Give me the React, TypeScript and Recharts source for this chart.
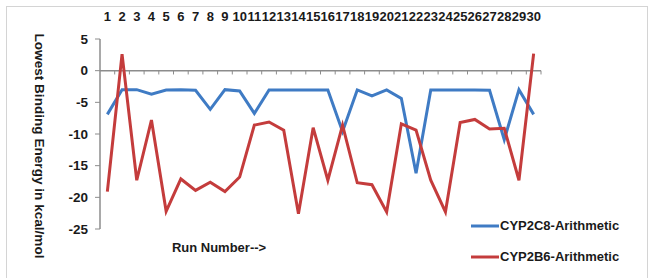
import React from 'react';
import { LineChart, Line, XAxis, YAxis, ReferenceLine, Legend } from 'recharts';

const runs = [1,2,3,4,5,6,7,8,9,10,11,12,13,14,15,16,17,18,19,20,21,22,23,24,25,26,27,28,29,30];
const cyp2c8 = [-6.9,-3,-3,-3.7,-3.05,-3,-3.1,-6.1,-3,-3.2,-6.75,-3.05,-3.05,-3.05,-3.05,-3.05,-9.6,-3.05,-4,-3.05,-4.4,-16.2,-3.05,-3.05,-3.05,-3.05,-3.1,-10.9,-3,-6.9];
const cyp2b6 = [-19.1,2.6,-17.3,-7.8,-22.2,-17.1,-18.9,-17.6,-19.1,-16.8,-8.6,-8.1,-9.4,-22.6,-9,-17.3,-8.6,-17.7,-18,-22.3,-8.4,-9.4,-17.3,-22.3,-8.2,-7.7,-9.2,-9.1,-17.3,2.7];
const yTicks = [5, 0, -5, -10, -15, -20, -25];
const seriesNames = ['CYP2C8-Arithmetic', 'CYP2B6-Arithmetic'];
const yTitle = 'Lowest Binding Energy in kcal/mol';
const xTitle = 'Run Number-->';

const data = runs.map((r, i) => ({ run: r, c8: cyp2c8[i], b6: cyp2b6[i] }));
const boundaries = runs.map((r) => r + 0.5);

const FONT = '"Liberation Sans", Arial, sans-serif';
const AXIS = '#8c8c8c';
const BLUE = '#3f7bc4';
const RED = '#c43c3c';
const TXT = '#1a1a1a';

const TopTick = (props: any) => {
  const { x, y, payload } = props;
  return (
    <text x={x} y={y - 10} textAnchor="middle" fontFamily={FONT} fontWeight="bold" fontSize={13} fill={TXT}>
      {payload.value}
    </text>
  );
};

const LegendContent = (props: any) => {
  const payload = [...(props.payload || [])].sort(
    (a: any, b: any) => seriesNames.indexOf(a.value) - seriesNames.indexOf(b.value)
  );
  return (
    <div style={{ fontFamily: FONT, fontWeight: 'bold', fontSize: 13, color: TXT }}>
      {payload.map((p: any, i: number) => (
        <div key={i} style={{ display: 'flex', alignItems: 'center', height: 31 }}>
          <svg width={29} height={6}>
            <line x1={0} y1={3} x2={28} y2={3} stroke={p.color} strokeWidth={3} />
          </svg>
          <span>{p.value}</span>
        </div>
      ))}
    </div>
  );
};

export default function App() {
  return (
    <div style={{ position: 'fixed', left: 0, top: 0, width: 649, height: 278, overflow: 'hidden', background: '#fff' }}>
      <div style={{ position: 'absolute', left: 6, top: 6, width: 640, height: 300, border: '1.5px solid #d4d4d4' }} />
      <div style={{ position: 'absolute', left: 0, top: 0 }}>
        <LineChart width={649} height={278} data={data} margin={{ top: 0, right: 108, bottom: 0, left: 0 }}>
          <XAxis
            xAxisId="top"
            dataKey="run"
            type="number"
            orientation="top"
            domain={[0.5, 30.5]}
            ticks={runs}
            interval={0}
            height={39}
            axisLine={false}
            tickLine={false}
            tick={<TopTick />}
          />
          <XAxis
            xAxisId="bottom"
            dataKey="run"
            type="number"
            orientation="bottom"
            domain={[0.5, 30.5]}
            height={49}
            axisLine={false}
            tickLine={false}
            tick={false}
            label={(p: any) => {
              const vb = p.viewBox;
              return (
                <text x={vb.x + 119} y={247} textAnchor="middle" dominantBaseline="central" fontFamily={FONT} fontWeight="bold" fontSize={13} fill={TXT}>
                  {xTitle}
                </text>
              );
            }}
          />
          <YAxis
            domain={[-25, 5]}
            ticks={yTicks}
            interval={0}
            width={100}
            stroke={AXIS}
            axisLine={{ stroke: AXIS, strokeWidth: 1.5 }}
            tickLine={{ stroke: AXIS }}
            tickSize={5}
            tickMargin={7}
            tick={{ fontFamily: FONT, fontWeight: 'bold', fontSize: 13.5, fill: TXT }}
            label={() => (
              <text
                x={39}
                y={146}
                textAnchor="middle"
                dominantBaseline="central"
                transform={`rotate(90, 39, 146)`}
                fontFamily={FONT}
                fontWeight="bold"
                fontSize={13.6}
                fill={TXT}
              >
                {yTitle}
              </text>
            )}
          />
          <ReferenceLine xAxisId="top" y={0} stroke={AXIS} strokeWidth={1.5} />
          {boundaries.map((b) => (
            <ReferenceLine
              key={b}
              xAxisId="top"
              segment={[{ x: b, y: 0 }, { x: b, y: -0.6 }]}
              stroke={AXIS}
              strokeWidth={1}
            />
          ))}
          <Line xAxisId="top" type="linear" dataKey="c8" name={seriesNames[0]} stroke={BLUE} strokeWidth={3} dot={false} isAnimationActive={false} />
          <Line xAxisId="top" type="linear" dataKey="b6" name={seriesNames[1]} stroke={RED} strokeWidth={3} dot={false} isAnimationActive={false} />
          <Legend
            layout="horizontal"
            verticalAlign="middle"
            align="center"
            content={<LegendContent />}
            wrapperStyle={{ position: 'absolute', left: 471, top: 210, width: 170 }}
          />
        </LineChart>
      </div>
    </div>
  );
}
